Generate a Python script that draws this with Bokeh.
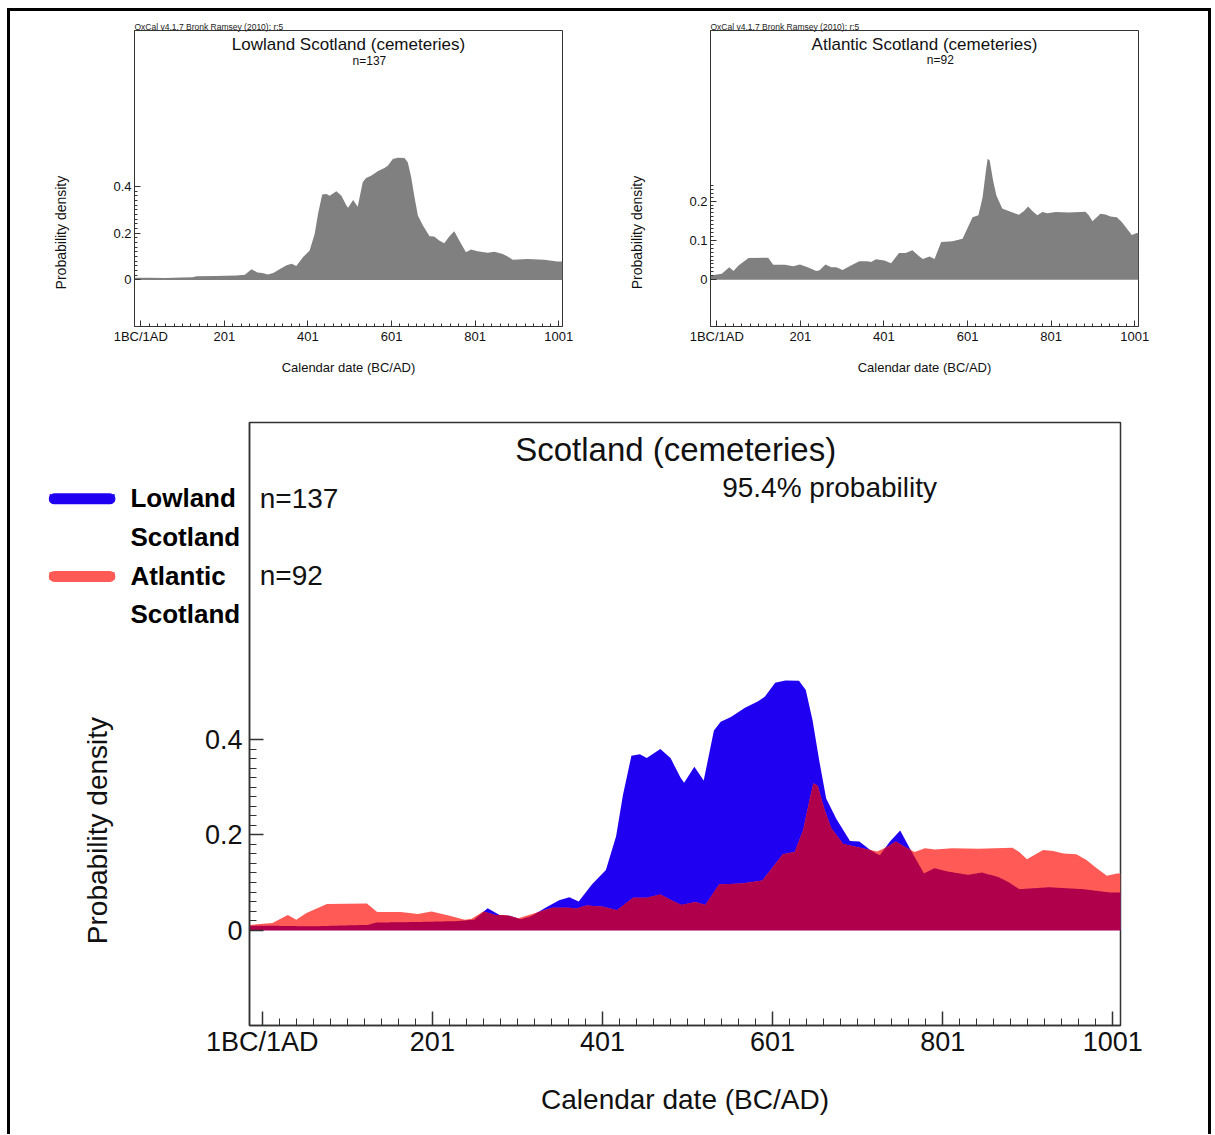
import numpy as np
from bokeh.plotting import figure
from bokeh.models import FixedTicker, Label, Range1d
from bokeh.layouts import column, row
from bokeh.embed import file_html
from bokeh.resources import INLINE

FONT = "Liberation Sans"

# ---------------- data ----------------
lowland_year = [-14, 20, 60, 100, 125, 135, 180, 230, 250, 266, 280, 292, 305, 318, 335, 350,
                362, 373, 389, 405, 417, 425, 435, 445, 453, 469, 481, 493, 497, 509, 520,
                532, 540, 552, 568, 584, 592, 604, 616, 632, 640, 648, 656, 664, 676, 692,
                703, 715, 727, 739, 751, 763, 779, 791, 807, 831, 847, 867, 879, 891, 926,
                966, 998, 1010]
lowland_density = [0.009, 0.009, 0.008, 0.010, 0.011, 0.016, 0.017, 0.019, 0.022, 0.046, 0.032,
                   0.030, 0.023, 0.030, 0.048, 0.063, 0.069, 0.060, 0.097, 0.126, 0.197, 0.283,
                   0.366, 0.369, 0.361, 0.380, 0.361, 0.319, 0.309, 0.343, 0.314, 0.419, 0.437,
                   0.447, 0.466, 0.480, 0.490, 0.519, 0.524, 0.523, 0.504, 0.440, 0.354, 0.276,
                   0.233, 0.187, 0.186, 0.169, 0.157, 0.186, 0.209, 0.169, 0.119, 0.130, 0.123,
                   0.116, 0.121, 0.111, 0.100, 0.086, 0.090, 0.086, 0.079, 0.079]

atlantic_year = [-14, 13, 31, 41, 53, 77, 124, 136, 164, 184, 200, 220, 239, 247, 261, 275, 287,
                 302, 322, 342, 362, 370, 382, 402, 418, 437, 453, 469, 486, 494, 510, 522, 538,
                 565, 589, 613, 627, 637, 645, 649, 654, 662, 670, 684, 696, 724, 736, 746, 756,
                 768, 780, 792, 812, 843, 883, 891, 900, 919, 931, 943, 958, 970, 982, 994, 1006,
                 1010]
atlantic_density = [0.011, 0.015, 0.032, 0.022, 0.036, 0.055, 0.056, 0.038, 0.038, 0.034, 0.039,
                    0.031, 0.022, 0.024, 0.039, 0.032, 0.032, 0.025, 0.036, 0.047, 0.047, 0.045,
                    0.052, 0.049, 0.042, 0.068, 0.068, 0.075, 0.059, 0.053, 0.059, 0.053, 0.096,
                    0.098, 0.104, 0.159, 0.164, 0.210, 0.278, 0.308, 0.303, 0.253, 0.214, 0.181,
                    0.176, 0.165, 0.175, 0.186, 0.175, 0.164, 0.172, 0.169, 0.172, 0.171, 0.173,
                    0.164, 0.149, 0.168, 0.166, 0.161, 0.159, 0.147, 0.130, 0.114, 0.119, 0.119]

x_major = [1, 201, 401, 601, 801, 1001]
x_major_labels = ["1BC/1AD", "201", "401", "601", "801", "1001"]
x_minor = list(range(1, 1002, 20))

low_y_major = [0, 0.2, 0.4]
low_y_labels = ["0", "0.2", "0.4"]
atl_y_major = [0, 0.1, 0.2]
atl_y_labels = ["0", "0.1", "0.2"]

legend_text = "Lowland\nScotland\nAtlantic\nScotland"
note = "OxCal v4.1.7 Bronk Ramsey (2010); r:5"

# ---------------- colours ----------------
GRAY = "#808080"
BLUE = "#2000F0"
SALMON = "#FF5A55"
CRIMSON = "#B0004C"
FRAME = "#333333"
TXT = "#111111"


def style(p, major_in, minor_in, lw, tick_font, ymajor, ylabels, yminor, x_standoff, y_standoff,
          xlabel_size, xlabel_standoff):
    p.grid.visible = False
    p.outline_line_color = FRAME
    p.outline_line_width = lw
    p.background_fill_color = "white"
    p.border_fill_color = "white"
    for ax in (p.xaxis[0], p.yaxis[0]):
        ax.axis_line_color = FRAME
        ax.axis_line_width = lw
        ax.major_tick_line_color = FRAME
        ax.minor_tick_line_color = FRAME
        ax.major_tick_line_width = lw
        ax.minor_tick_line_width = 1
        ax.major_tick_out = 0
        ax.minor_tick_out = 0
        ax.major_tick_in = major_in
        ax.minor_tick_in = minor_in
        ax.major_label_text_font = FONT
        ax.major_label_text_font_size = tick_font
        ax.major_label_text_color = TXT
    p.xaxis.ticker = FixedTicker(ticks=x_major, minor_ticks=x_minor)
    p.xaxis.major_label_overrides = dict(zip(x_major, x_major_labels))
    p.xaxis.major_label_standoff = x_standoff
    p.xaxis.axis_label = "Calendar date (BC/AD)"
    p.xaxis.axis_label_text_font = FONT
    p.xaxis.axis_label_text_font_style = "normal"
    p.xaxis.axis_label_text_font_size = xlabel_size
    p.xaxis.axis_label_text_color = TXT
    p.xaxis.axis_label_standoff = xlabel_standoff
    p.yaxis.ticker = FixedTicker(ticks=ymajor, minor_ticks=yminor)
    p.yaxis.major_label_overrides = dict(zip(ymajor, ylabels))
    p.yaxis.major_label_standoff = y_standoff


def small_panel(year, dens, ymax, ymin, ymajor, ylabels, yminor, title, ntext, n_x, n_y,
                title_y, ylab_y, left, right):
    p = figure(frame_width=428, frame_height=296, min_border_left=left, min_border_right=right,
               min_border_top=19, min_border_bottom=69,
               x_range=Range1d(-14, 1010), y_range=Range1d(ymin, ymax),
               output_backend="svg", toolbar_location=None)
    p.varea(x=year, y1=0, y2=dens, fill_color=GRAY, fill_alpha=1.0)
    style(p, 6, 3, 1, "13px", ymajor, ylabels, yminor, 2, 3, "13px", 13)
    span = ymax - ymin
    p.add_layout(Label(x=-14, y=ymax + span * 3.5 / 296, text=note, text_font=FONT,
                       text_font_size="8.5px", text_color="#222222",
                       text_baseline="alphabetic", text_align="left"), "above")
    p.add_layout(Label(x=498, y=title_y, text=title, text_font=FONT, text_font_size="17px",
                       text_color=TXT, text_align="center", text_baseline="middle"))
    p.add_layout(Label(x=n_x, y=n_y, text=ntext, text_font=FONT, text_font_size="12px",
                       text_color=TXT, text_align="center", text_baseline="middle"))
    p.add_layout(Label(x=-191, y=ylab_y, text="Probability density", text_font=FONT,
                       text_font_size="14px", text_color=TXT, text_align="center",
                       text_baseline="middle", angle=np.pi / 2), "left")
    return p


low_minor = [round(0.02 * k, 2) for k in range(0, 21)]
atl_minor = [round(0.01 * k, 2) for k in range(0, 25)]

p1 = small_panel(lowland_year, lowland_density, 1.07, -0.2, low_y_major, low_y_labels, low_minor,
                 "Lowland Scotland (cemeteries)", "n=137", 548, 0.941, 1.01, 0.203, 124, 47)
p2 = small_panel(atlantic_year, atlantic_density, 0.634, -0.119, atl_y_major, atl_y_labels,
                 atl_minor, "Atlantic Scotland (cemeteries)", "n=92", 536, 0.558, 0.599, 0.12,
                 101, 70)

# ---------------- combined panel ----------------
grid = np.union1d(np.union1d(lowland_year, atlantic_year), np.arange(-14, 1011))
low_g = np.interp(grid, lowland_year, lowland_density)
atl_g = np.interp(grid, atlantic_year, atlantic_density)
overlap = np.minimum(low_g, atl_g)

p3 = figure(frame_width=871, frame_height=603, min_border_left=239, min_border_right=88,
            min_border_top=27, min_border_bottom=109,
            x_range=Range1d(-14, 1010), y_range=Range1d(-0.2, 1.065),
            output_backend="svg", toolbar_location=None)
p3.varea(x=lowland_year, y1=0, y2=lowland_density, fill_color=BLUE, fill_alpha=1.0)
p3.varea(x=atlantic_year, y1=0, y2=atlantic_density, fill_color=SALMON, fill_alpha=1.0)
p3.varea(x=grid, y1=0, y2=overlap, fill_color=CRIMSON, fill_alpha=1.0)
style(p3, 14, 7, 1.5, "27px", low_y_major, low_y_labels, low_minor, 1, 7, "28px", 24)

p3.add_layout(Label(x=487, y=1.008, text="Scotland (cemeteries)", text_font=FONT,
                    text_font_size="33px", text_color=TXT, text_align="center",
                    text_baseline="middle"))
p3.add_layout(Label(x=668, y=0.929, text="95.4% probability", text_font=FONT,
                    text_font_size="28px", text_color=TXT, text_align="center",
                    text_baseline="middle"))
p3.add_layout(Label(x=-2, y=0.905, text="n=137", text_font=FONT, text_font_size="28px",
                    text_color=TXT, text_align="left", text_baseline="middle"))
p3.add_layout(Label(x=-2, y=0.744, text="n=92", text_font=FONT, text_font_size="28px",
                    text_color=TXT, text_align="left", text_baseline="middle"))
p3.add_layout(Label(x=-193, y=0.209, text="Probability density", text_font=FONT,
                    text_font_size="28px", text_color=TXT, text_align="center",
                    text_baseline="middle", angle=np.pi / 2), "left")

# legend (outside the frame, on the left)
p3.add_layout(Label(x=-154, y=0.784, text=legend_text, text_font=FONT, text_font_size="26px",
                    text_font_style="bold", text_color="black", text_align="left",
                    text_baseline="middle", text_line_height=1.29), "left")
for col, yy in [(BLUE, 0.905), (SALMON, 0.742)]:
    p3.add_layout(Label(x=-250, y=yy, text="MMMMMMMM", text_font=FONT, text_font_size="10px",
                        text_color=col, background_fill_color=col, background_fill_alpha=1.0,
                        border_radius=6, padding=0, text_align="left",
                        text_baseline="middle"), "above")

layout = column(row(p1, p2), p3,
                styles={"margin": "8px 0px 0px 7px",
                        "border-left": "3px solid black", "border-top": "3px solid black",
                        "border-right": "3px solid black"})

open("out.html", "w").write(file_html(layout, INLINE))
